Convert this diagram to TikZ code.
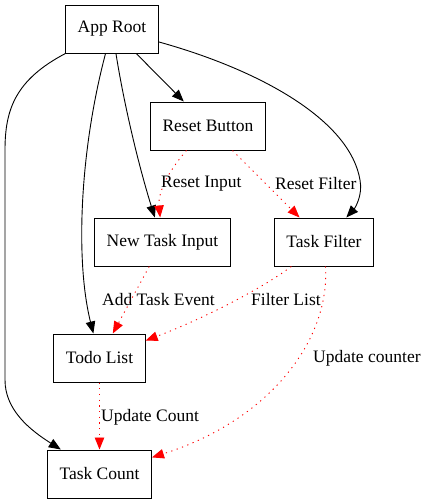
\documentclass[tikz,border=0pt]{standalone}
\usepackage{fontspec}
\setmainfont{Liberation Serif}
\usetikzlibrary{arrows.meta}
\begin{document}
\begin{tikzpicture}[x=1pt, y=-1pt,
        comp/.style={rectangle, draw, line width=1pt,
          minimum height=48pt, inner xsep=12pt,
          font=\fontsize{17.5}{20}\selectfont},
        calls/.style={-{Triangle[length=12pt, width=9.5pt]}, line width=0.9pt},
        event/.style={-{Triangle[length=12pt, width=9.5pt]}, line width=0.9pt,
          draw=red, dash pattern=on 1.2pt off 4.5pt},
        lab/.style={anchor=west, inner sep=0pt,
          font=\fontsize{17.5}{20}\selectfont}
      ]
      \useasboundingbox (0,0) rectangle (431,504);
      \node[comp] (root)   at (112,   29)  {App Root};
      \node[comp] (reset)  at (208,  126)  {Reset Button};
      \node[comp] (input)  at (162.5,242)  {New Task Input};
      \node[comp] (filter) at (324,  242)  {Task Filter};
      \node[comp] (todo)   at (99.5, 358)  {Todo List};
      \node[comp] (count)  at (99.5, 474)  {Task Count};
      \draw[calls] (root) -- (reset);
      \draw[calls] (root) .. controls (125,110) and (140,170) .. (input);
      \draw[calls] (root) .. controls (80,150) and (75,260) .. (todo);
      \draw[calls] (root) .. controls (15,80) and (5,110) .. (5,150)
        -- (5,380) .. controls (5,410) and (30,430) .. (count);
      \draw[calls] (root) .. controls (260,70) and (350,120) .. (360,180)
        .. controls (363,195) and (355,208) .. (filter);
      \draw[event] (reset) .. controls (165,175) and (158,195) .. (input);
      \draw[event] (reset) -- (filter);
      \draw[event] (input) -- (todo);
      \draw[event] (filter) .. controls (260,290) and (200,320) .. (todo);
      \draw[event] (filter) .. controls (330,340) and (270,420) .. (count);
      \draw[event] (todo) -- (count);
      \node[lab] (l1) at (161,184) {Reset Input};
      \node[lab] (l2) at (275,184) {Reset Filter};
      \node[lab] (l3) at (102,300) {Add Task Event};
      \node[lab] (l4) at (251,300) {Filter List};
      \node[lab] (l5) at (313,358) {Update counter};
      \node[lab] (l6) at (101,417) {Update Count};
    \end{tikzpicture}
\end{document}
